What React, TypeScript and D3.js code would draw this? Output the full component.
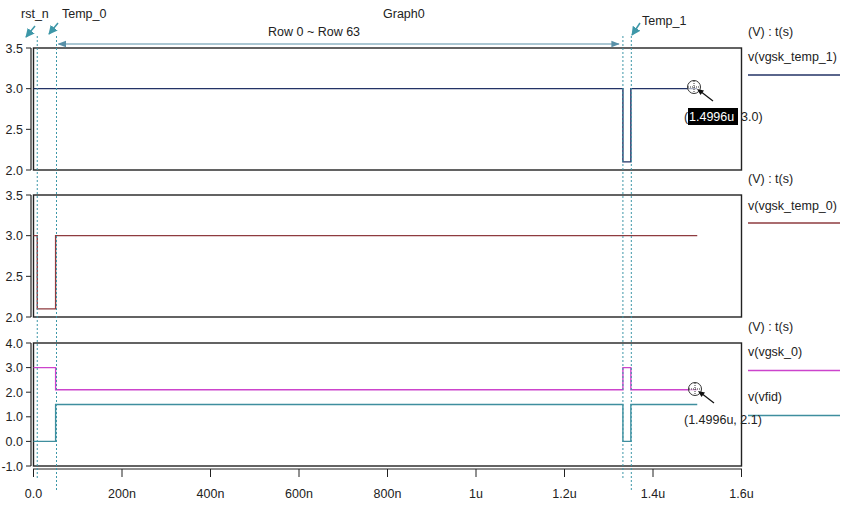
import React from "react";
import * as d3 from "d3";

const W = 844;
const H = 506;

// time axis
const xTicks = [0, 200e-9, 400e-9, 600e-9, 800e-9, 1e-6, 1.2e-6, 1.4e-6, 1.6e-6];
const xTickLabels = ["0.0", "200n", "400n", "600n", "800n", "1u", "1.2u", "1.4u", "1.6u"];

// step waveforms (time, value) — value holds until next time
const temp1Time = [0, 1.332e-6, 1.35e-6, 1.5e-6];
const temp1Val = [3.0, 2.1, 3.0, 3.0];

const temp0Time = [0, 8.5e-9, 50e-9, 1.5e-6];
const temp0Val = [3.0, 2.1, 3.0, 3.0];

const vgsk0Time = [0, 50e-9, 1.332e-6, 1.35e-6, 1.5e-6];
const vgsk0Val = [3.0, 2.1, 3.0, 2.1, 2.1];

const vfidTime = [0, 50e-9, 1.332e-6, 1.35e-6, 1.5e-6];
const vfidVal = [0.0, 1.5, 0.0, 1.5, 1.5];

// y ticks per panel
const p1Ticks = [2.0, 2.5, 3.0, 3.5];
const p2Ticks = [2.0, 2.5, 3.0, 3.5];
const p3Ticks = [-1, 0, 1, 2, 3, 4];

// markers (vertical dashed)
const markerTimes = [8.5e-9, 52e-9, 1.332e-6, 1.351e-6];

const FONT = "'Liberation Sans', Arial, sans-serif";
const C_NAVY = "#233366";
const C_RED = "#8e3b3f";
const C_MAG = "#cc44cc";
const C_TEAL = "#3f8e9e";
const C_DASH = "#3d97a8";
const C_ARROW = "#5890a8";

const x = d3.scaleLinear().domain([0, 1.6e-6]).range([33.5, 741.5]);

const panels = [
  { top: 48, bottom: 170, domain: [2, 3.5], ticks: p1Ticks, series: [{ t: temp1Time, v: temp1Val, c: C_NAVY }] },
  { top: 195, bottom: 317, domain: [2, 3.5], ticks: p2Ticks, series: [{ t: temp0Time, v: temp0Val, c: C_RED }] },
  {
    top: 343,
    bottom: 466,
    domain: [-1, 4],
    ticks: p3Ticks,
    series: [
      { t: vgsk0Time, v: vgsk0Val, c: C_MAG },
      { t: vfidTime, v: vfidVal, c: C_TEAL },
    ],
  },
];

function Cursor({ cx, cy }: { cx: number; cy: number }) {
  return (
    <g>
      <circle cx={cx} cy={cy} r={6.5} fill="white" fillOpacity={0.6} stroke="#333" strokeWidth={1} />
      <line x1={cx - 6} x2={cx + 6} y1={cy} y2={cy} stroke="#333" strokeDasharray="1,1" />
      <line x1={cx} x2={cx} y1={cy - 6} y2={cy + 6} stroke="#333" strokeDasharray="1,1" />
      <line x1={cx + 19} y1={cy + 14} x2={cx + 6} y2={cy + 4} stroke="#111" strokeWidth={1.2} />
      <path d={`M${cx + 3},${cy + 2} L${cx + 10},${cy + 3.5} L${cx + 6.5},${cy + 8} Z`} fill="#111" />
    </g>
  );
}

export default function App() {
  const line = d3
    .line<[number, number]>()
    .x((d) => x(d[0]))
    .curve(d3.curveStepAfter);

  return (
    <svg width={W} height={H} style={{ position: "absolute", left: 0, top: 0, background: "white" }} fontFamily={FONT}>
      <defs>
        <marker id="ah" viewBox="0 0 10 10" refX="9" refY="5" markerWidth="7" markerHeight="7" orient="auto-start-reverse">
          <path d="M0,1 L10,5 L0,9 Z" fill={C_ARROW} />
        </marker>
        <marker id="ah2" viewBox="0 0 10 10" refX="9" refY="5" markerWidth="6" markerHeight="6" orient="auto">
          <path d="M0,0 L10,5 L0,10 Z" fill={C_DASH} />
        </marker>
      </defs>
      <rect x={0} y={0} width={W} height={H} fill="white" />

      {panels.map((p, i) => {
        const y = d3.scaleLinear().domain(p.domain).range([p.bottom, p.top]);
        const ln = line.y((d) => y(d[1]));
        return (
          <g key={i}>
            {/* y axis */}
            <line x1={31} x2={31} y1={p.top} y2={p.bottom} stroke="#222" strokeWidth={1.2} />
            {p.ticks.map((t) => (
              <g key={t}>
                <line x1={26} x2={31} y1={y(t)} y2={y(t)} stroke="#222" />
                <text x={23} y={y(t) + 4.5} textAnchor="end" fontSize={12.5} fill="#222">
                  {t.toFixed(1)}
                </text>
              </g>
            ))}
            {/* frame */}
            <rect x={33.5} y={p.top} width={741.5 - 33.5} height={p.bottom - p.top} fill="none" stroke="#222" strokeWidth={1.4} />
            {/* traces */}
            {p.series.map((s, j) => {
              const pts: [number, number][] = s.t.map((tt, k) => [tt, s.v[k]]);
              return <path key={j} d={ln(pts) || ""} fill="none" stroke={s.c} strokeWidth={1.4} />;
            })}
          </g>
        );
      })}

      {/* x axis */}
      <line x1={33} x2={742} y1={469} y2={469} stroke="#222" strokeWidth={1.2} />
      {xTicks.map((t, i) => (
        <g key={i}>
          <line x1={x(t)} x2={x(t)} y1={469} y2={477} stroke="#222" />
          <text x={x(t)} y={498} textAnchor="middle" fontSize={12.5} fill="#222">
            {xTickLabels[i]}
          </text>
        </g>
      ))}

      {/* dashed marker lines */}
      {markerTimes.map((t, i) => (
        <line key={i} x1={x(t)} x2={x(t)} y1={36} y2={i % 2 === 0 ? 480 : 490} stroke={C_DASH} strokeWidth={1} strokeDasharray="2,2" />
      ))}

      {/* top annotations */}
      <text x={21} y={18} fontSize={12.5} fill="#222">rst_n</text>
      <text x={62} y={18} fontSize={12.5} fill="#222">Temp_0</text>
      <line x1={35} y1={26} x2={26} y2={37} stroke={C_DASH} strokeWidth={1.5} markerEnd="url(#ah2)" />
      <line x1={58} y1={23} x2={49} y2={34} stroke={C_DASH} strokeWidth={1.5} markerEnd="url(#ah2)" />
      <text x={383} y={18} fontSize={12.5} fill="#222">Graph0</text>
      <text x={268} y={36} fontSize={12.5} fill="#222">Row 0 ~ Row 63</text>
      <line x1={x(52e-9) + 2} y1={44} x2={x(1.332e-6) - 4} y2={44} stroke={C_ARROW} strokeWidth={1.2} markerStart="url(#ah)" markerEnd="url(#ah)" />
      <text x={642} y={25} fontSize={12.5} fill="#222">Temp_1</text>
      <line x1={640} y1={23} x2={632} y2={35} stroke={C_DASH} strokeWidth={1.5} markerEnd="url(#ah2)" />

      {/* right legends */}
      <text x={748} y={36} fontSize={12.5} fill="#222">(V) : t(s)</text>
      <text x={748} y={61} fontSize={12.5} fill="#222">v(vgsk_temp_1)</text>
      <line x1={748} x2={840} y1={75} y2={75} stroke={C_NAVY} strokeWidth={1.4} />

      <text x={748} y={183} fontSize={12.5} fill="#222">(V) : t(s)</text>
      <text x={748} y={210} fontSize={12.5} fill="#222">v(vgsk_temp_0)</text>
      <line x1={748} x2={840} y1={223} y2={223} stroke={C_RED} strokeWidth={1.4} />

      <text x={748} y={331} fontSize={12.5} fill="#222">(V) : t(s)</text>
      <text x={748} y={356} fontSize={12.5} fill="#222">v(vgsk_0)</text>
      <line x1={748} x2={840} y1={370.5} y2={370.5} stroke={C_MAG} strokeWidth={1.4} />
      <text x={748} y={401} fontSize={12.5} fill="#222">v(vfid)</text>
      <line x1={748} x2={840} y1={415.5} y2={415.5} stroke={C_TEAL} strokeWidth={1.4} />

      {/* cursors */}
      <Cursor cx={694} cy={87} />
      <rect x={688} y={108} width={50} height={17} fill="#000" />
      <text x={684} y={121} fontSize={12.5} fill="#222">(</text>
      <text x={689} y={121} fontSize={12.5} fill="#fff">1.4996u</text>
      <text x={741} y={121} fontSize={12.5} fill="#222">3.0)</text>

      <Cursor cx={695} cy={389} />
      <text x={684} y={424} fontSize={12.5} fill="#222">(1.4996u, 2.1)</text>
    </svg>
  );
}
